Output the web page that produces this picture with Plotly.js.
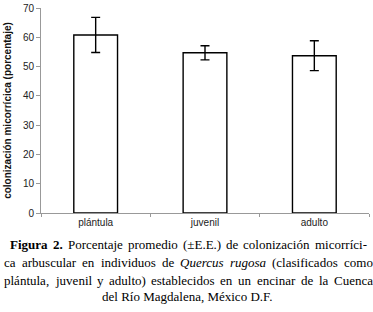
<!DOCTYPE html>
<html>
<head>
<meta charset="utf-8">
<script src="https://cdn.plot.ly/plotly-3.0.1.min.js"></script>
<style>html,body{margin:0;padding:0;background:#fff;}#chart{width:373px;height:312px;}</style>
</head>
<body>
<div id="chart"></div>
<script>
var categories = ['plántula', 'juvenil', 'adulto'];
var meanValues = [60.8, 54.7, 53.7];
var errorValues = [6.0, 2.4, 5.1];
var yTickValues = [0, 10, 20, 30, 40, 50, 60, 70];
var yTitle = 'colonización micorrícica (porcentaje)';
// caption lines: words with style flags
var captionLines = [
  [['Figura', 'b'], ['2.', 'b'], ['Porcentaje'], ['promedio'], ['(±E.E.)'], ['de'], ['colonización'], ['micorríci-']],
  [['ca'], ['arbuscular'], ['en'], ['individuos'], ['de'], ['Quercus', 'i'], ['rugosa', 'i'], ['(clasificados'], ['como']],
  [['plántula,'], ['juvenil'], ['y'], ['adulto)'], ['establecidos'], ['en'], ['un'], ['encinar'], ['de'], ['la'], ['Cuenca']],
  [['del Río Magdalena, México D.F.']]
];

var W = 373, H = 312;
var mL = 41, mR = 4, mT = 8, mB = 99.3;
var plotW = W - mL - mR, plotH = H - mT - mB;
function px2x(p) { return (p - mL) / plotW; }
function py2y(p) { return (H - mB - p) / plotH; }

var capFont = 'Liberation Serif, Times New Roman, serif';
var capSize = 13;
var cv = document.createElement('canvas').getContext('2d');
function measure(t, s) {
  cv.font = (s === 'i' ? 'italic ' : '') + (s === 'b' ? 'bold ' : '') + capSize + 'px "Liberation Serif"';
  return cv.measureText(t).width;
}
function fmt(t, s) { return s === 'b' ? '<b>' + t + '</b>' : (s === 'i' ? '<i>' + t + '</i>' : t); }

var lineSpans = [[9, 366], [3, 372], [3, 372], null];
var lineCenters = [244.2, 262.5, 280, 296.5];
var annotations = [];
captionLines.forEach(function (words, li) {
  var span = lineSpans[li];
  var yc = py2y(lineCenters[li]);
  if (!span) {
    annotations.push({
      xref: 'paper', yref: 'paper', x: px2x(W / 2), y: yc, xanchor: 'center', yanchor: 'middle',
      text: fmt(words[0][0], words[0][1]), showarrow: false, borderpad: 0,
      font: {family: capFont, size: capSize, color: '#000'}
    });
    return;
  }
  var widths = words.map(function (w) { return measure(w[0], w[1]); });
  var total = widths.reduce(function (a, b) { return a + b; }, 0);
  var gap = (span[1] - span[0] - total) / (words.length - 1);
  var cx = span[0];
  words.forEach(function (w, wi) {
    annotations.push({
      xref: 'paper', yref: 'paper', x: px2x(cx), y: yc, xanchor: 'left', yanchor: 'middle',
      text: fmt(w[0], w[1]), showarrow: false, borderpad: 0,
      font: {family: capFont, size: capSize, color: '#000'}
    });
    cx += widths[wi] + gap;
  });
});

var trace = {
  type: 'bar',
  x: categories,
  y: meanValues,
  marker: {color: '#ffffff', line: {color: '#000000', width: 1.4}},
  error_y: {type: 'data', array: errorValues, visible: true, color: '#000000', thickness: 1.4, width: 4.5},
  hoverinfo: 'none'
};

var layout = {
  width: W, height: H,
  margin: {l: mL, r: mR, t: mT, b: mB, pad: 0},
  paper_bgcolor: '#ffffff', plot_bgcolor: '#ffffff',
  showlegend: false,
  bargap: 0.6,
  font: {family: 'Liberation Sans, Arial, sans-serif', size: 10, color: '#222'},
  xaxis: {
    type: 'category', showgrid: false, zeroline: false,
    showline: true, linecolor: '#999', linewidth: 1,
    ticks: 'outside', tickson: 'boundaries', ticklen: 3, tickcolor: '#999',
    tickfont: {family: 'Liberation Sans, Arial, sans-serif', size: 10, color: '#222'},
    automargin: false
  },
  yaxis: {
    range: [0, 70], tickvals: yTickValues, showgrid: false, zeroline: false,
    showline: true, linecolor: '#999', linewidth: 1,
    ticks: 'outside', ticklen: 4, tickcolor: '#999',
    tickfont: {family: 'Liberation Sans, Arial, sans-serif', size: 10, color: '#222'},
    title: {text: '<b>' + yTitle + '</b>', font: {family: 'Liberation Sans, Arial, sans-serif', size: 10, color: '#111'}, standoff: 9},
    automargin: false
  },
  annotations: annotations
};

Plotly.newPlot('chart', [trace], layout, {staticPlot: true, displayModeBar: false});
</script>
</body>
</html>
